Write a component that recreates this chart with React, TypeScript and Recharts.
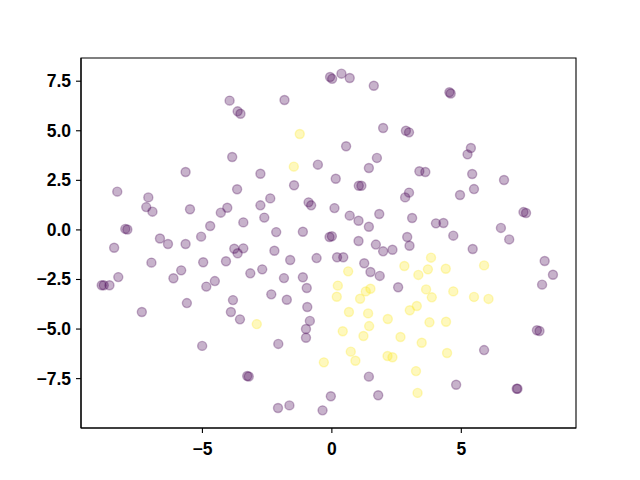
import { ScatterChart, Scatter, XAxis, YAxis, ZAxis, ReferenceArea } from "recharts";

const purpleX = [
  -0.07, 0.01, 0.37, 0.69, 1.62, -1.83, -3.95, -3.64, -3.53, 4.54, 4.59, 1.98, 2.86, 2.98, 0.55, -3.85,
  5.37, 5.24, 1.74, -0.54, 1.43, 3.38, 3.61, -5.65, -2.76, 5.42, 0.15, 6.65, -1.46, 1.04, 1.14, -3.66,
  -8.29, 2.98, 5.49, 4.95, -7.09, 2.83, -2.38, -0.9, -0.8, -2.76, -7.17, -4.04, -5.48, 0.1, -6.93, -4.29,
  1.83, 7.4, 7.5, 0.69, -2.61, 3.1, 1.03, -3.42, 4.02, 4.31, -4.7, 1.43, 6.53, -7.98, -7.9, -2.15,
  -1.12, 4.69, -5.05, -0.09, 0.0, -6.64, 2.91, 6.85, 1.03, -6.33, -5.65, 1.7, -8.41, -3.77, -3.42, -3.64,
  2.34, 3.0, 5.44, -2.22, 1.98, -0.59, 0.2, 0.44, -1.61, -6.97, -4.97, -4.09, 8.22, 1.25, -2.69, -5.82,
  1.49, -3.15, 8.54, -8.25, -6.12, -1.85, -1.12, 1.85, -4.52, -8.89, -8.81, -8.59, -4.85, -0.97, 2.56, 8.12,
  -2.34, -1.74, -3.82, -5.6, -0.95, -3.9, -7.34, -3.55, -0.85, -1.0, 7.92, 8.02, -1.0, -2.07, -5.01, 5.88,
  -3.27, -3.21, 1.43, 4.8, 7.14, 7.17, -0.04, 1.79, -1.64, -2.08, -0.36,
];
const purpleY = [
  7.71, 7.62, 7.88, 7.66, 7.27, 6.55, 6.52, 5.98, 5.86, 6.94, 6.88, 5.14, 5.0, 4.92, 4.22, 3.68,
  4.13, 3.81, 3.63, 3.29, 3.12, 2.96, 2.92, 2.92, 2.83, 2.82, 2.58, 2.52, 2.25, 2.23, 2.23, 2.05,
  1.93, 1.88, 2.06, 1.76, 1.64, 1.64, 1.59, 1.39, 1.24, 1.24, 1.15, 1.12, 1.04, 1.1, 0.92, 0.87,
  0.8, 0.9, 0.85, 0.72, 0.62, 0.6, 0.46, 0.38, 0.33, 0.35, 0.2, 0.16, 0.1, 0.05, 0.02, -0.11,
  -0.09, -0.29, -0.34, -0.36, -0.32, -0.43, -0.36, -0.48, -0.56, -0.71, -0.71, -0.74, -0.9, -0.95, -0.93, -1.18,
  -1.0, -0.8, -0.96, -1.05, -1.08, -1.42, -1.38, -1.38, -1.52, -1.65, -1.63, -1.58, -1.57, -1.68, -1.99, -2.04,
  -2.12, -2.19, -2.26, -2.38, -2.44, -2.43, -2.39, -2.32, -2.58, -2.79, -2.79, -2.79, -2.86, -2.93, -2.89, -2.76,
  -3.25, -3.52, -3.54, -3.69, -3.89, -4.14, -4.14, -4.51, -4.59, -5.0, -5.06, -5.1, -5.44, -5.75, -5.85, -6.06,
  -7.37, -7.39, -7.4, -7.81, -8.01, -8.01, -8.39, -8.34, -8.85, -8.98, -9.1,
];

const yellowX = [
  -1.24, -1.47, 0.63, 2.8, 0.23, 0.19, 1.31, 1.49, 1.09, 0.66, 1.4, 2.16, 3.01, -2.9, 0.42, 1.44,
  1.22, 2.65, 0.73, 0.91, 2.15, 2.34, -0.31, 3.25, 3.31, 3.83, 3.71, 3.34, 4.4, 5.88, 3.64, 3.86,
  4.69, 5.49, 6.05, 3.28, 3.77, 4.41, 3.47, 4.45,
];
const yellowY = [
  4.84, 3.19, -2.09, -1.82, -2.81, -3.37, -3.1, -2.97, -3.47, -4.14, -4.21, -4.49, -4.05, -4.75, -5.11, -4.85,
  -5.35, -5.4, -6.14, -6.6, -6.36, -6.42, -6.68, -7.12, -8.22, -1.4, -1.99, -2.27, -1.96, -1.79, -3.0, -3.4,
  -3.1, -3.38, -3.48, -3.84, -4.66, -4.63, -5.69, -6.21,
];

const xTicks = [-5, 0, 5];
const yTicks = [-7.5, -5, -2.5, 0, 2.5, 5, 7.5];

const X_DOMAIN = [-9.69, 9.43];
const Y_DOMAIN = [-9.99, 8.67];

const purple = purpleX.map((x, i) => ({ x, y: purpleY[i] }));
const yellow = yellowX.map((x, i) => ({ x, y: yellowY[i] }));

const fmt = (v: number, digits: number) => {
  const s = Math.abs(v).toFixed(digits);
  return v < 0 ? "\u2212" + s : s;
};

const FONT = "Liberation Sans, Arial, sans-serif";

function XTick({ x, y, payload }: any) {
  return (
    <text
      x={x}
      y={y + 22}
      textAnchor="middle"
      fontSize={17.5}
      fontWeight={700}
      fontFamily={FONT}
      fill="#000"
    >
      {fmt(payload.value, 0)}
    </text>
  );
}

function YTick({ x, y, payload }: any) {
  return (
    <text
      x={x}
      y={y + 6}
      textAnchor="end"
      fontSize={17.5}
      fontWeight={700}
      fontFamily={FONT}
      fill="#000"
    >
      {fmt(payload.value, 1)}
    </text>
  );
}

export default function App() {
  return (
    <div style={{ position: "absolute", left: 0, top: 0, background: "#fff" }}>
      <ScatterChart
        width={640}
        height={480}
        margin={{ top: 58, right: 64, left: 0, bottom: 0 }}
      >
        <XAxis
          type="number"
          dataKey="x"
          domain={X_DOMAIN}
          ticks={xTicks}
          allowDataOverflow
          height={52}
          tick={<XTick />}
          tickSize={5}
          tickMargin={0}
          axisLine={{ stroke: "#000", strokeWidth: 1.1 }}
          tickLine={{ stroke: "#000", strokeWidth: 1.1 }}
        />
        <YAxis
          type="number"
          dataKey="y"
          domain={Y_DOMAIN}
          ticks={yTicks}
          allowDataOverflow
          width={81}
          tick={<YTick />}
          tickSize={5}
          tickMargin={5}
          axisLine={{ stroke: "#000", strokeWidth: 1.1 }}
          tickLine={{ stroke: "#000", strokeWidth: 1.1 }}
        />
        <ZAxis range={[55, 55]} />
        <ReferenceArea
          x1={X_DOMAIN[0]}
          x2={X_DOMAIN[1]}
          y1={Y_DOMAIN[0]}
          y2={Y_DOMAIN[1]}
          fill="none"
          stroke="#000"
          strokeWidth={1.1}
          fillOpacity={0}
        />
        <Scatter
          data={purple}
          fill="#440154"
          fillOpacity={0.3}
          stroke="#440154"
          strokeOpacity={0.3}
          strokeWidth={1.4}
          isAnimationActive={false}
        />
        <Scatter
          data={yellow}
          fill="#fde725"
          fillOpacity={0.3}
          stroke="#fde725"
          strokeOpacity={0.3}
          strokeWidth={1.4}
          isAnimationActive={false}
        />
      </ScatterChart>
    </div>
  );
}
